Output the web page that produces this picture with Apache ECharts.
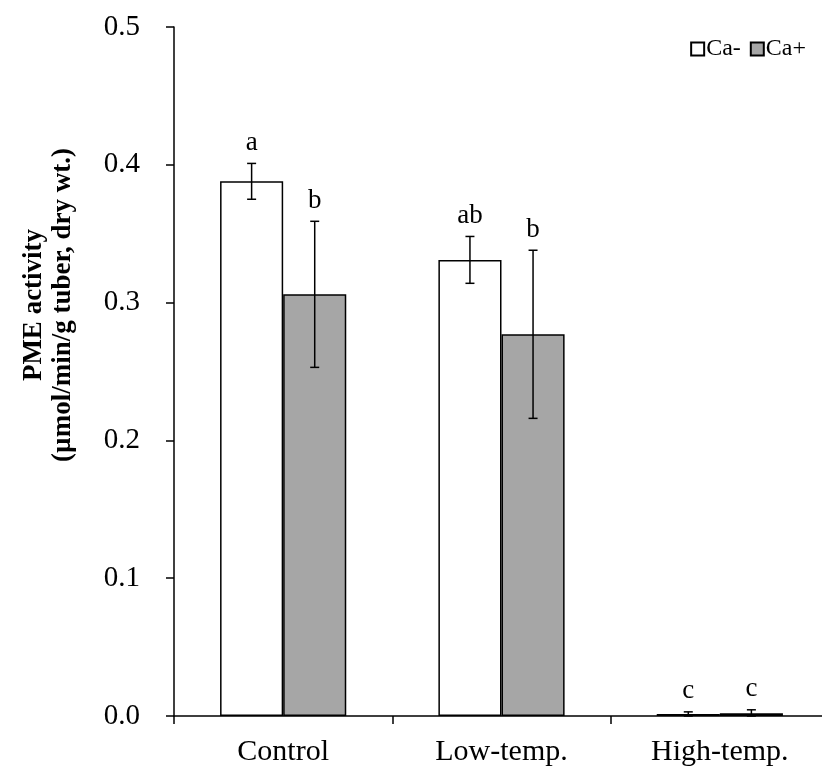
<!DOCTYPE html>
<html>
<head>
<meta charset="utf-8">
<script src="https://cdn.jsdelivr.net/npm/echarts@6/dist/echarts.min.js"></script>
<style>html,body{margin:0;padding:0;background:#fff;overflow:hidden}#c{width:829px;height:769px}</style>
</head>
<body>
<div id="c"></div>
<script>
const categories = ['Control', 'Low-temp.', 'High-temp.'];
const seriesNames = ['Ca-', 'Ca+'];
const caMinus = [0.388, 0.331, 0.0015];
const caMinusErr = [0.013, 0.017, 0.0015];
const caPlus = [0.306, 0.277, 0.002];
const caPlusErr = [0.053, 0.061, 0.0025];
const caMinusLetters = ['a', 'ab', 'c'];
const caPlusLetters = ['b', 'b', 'c'];
const yTicks = [0, 0.1, 0.2, 0.3, 0.4, 0.5];

const FONT = '"Liberation Serif", "Times New Roman", serif';
const BAR_FRAC = 0.289;

const errData = [];
categories.forEach((c, i) => {
  errData.push([i, caMinus[i], caMinusErr[i], 0, caMinusLetters[i]]);
  errData.push([i, caPlus[i], caPlusErr[i], 1, caPlusLetters[i]]);
});

const chart = echarts.init(document.getElementById('c'), null, {renderer: 'canvas', width: 829, height: 769});
chart.setOption({
  animation: false,
  backgroundColor: '#fff',
  grid: {left: 174, right: 0, top: 27, bottom: 53, containLabel: false},
  legend: {
    data: seriesNames,
    right: 18, top: 32,
    icon: 'rect', itemWidth: 13, itemHeight: 13, itemGap: 9,
    textStyle: {fontFamily: FONT, fontSize: 24, color: '#000', padding: [0, 0, 0, -3]}
  },
  xAxis: {
    type: 'category',
    data: categories,
    axisLine: {lineStyle: {color: '#000', width: 1.5}},
    axisTick: {show: true, length: 8, lineStyle: {color: '#000', width: 1.5}},
    axisLabel: {fontFamily: FONT, fontSize: 30, color: '#000', margin: 21}
  },
  yAxis: {
    type: 'value',
    min: 0, max: 0.5, interval: 0.1,
    axisLine: {show: true, lineStyle: {color: '#000', width: 1.5}},
    axisTick: {show: true, length: 8, lineStyle: {color: '#000', width: 1.5}},
    splitLine: {show: false},
    axisLabel: {fontFamily: FONT, fontSize: 29, color: '#000', margin: 34,
      formatter: v => v.toFixed(1)}
  },
  graphic: [{
    type: 'text',
    rotation: Math.PI / 2,
    x: 49, y: 305,
    style: {
      text: 'PME activity\n(µmol/min/g tuber, dry wt.)',
      fontFamily: FONT, fontSize: 27, fontWeight: 'bold', fill: '#000',
      align: 'center', verticalAlign: 'middle', lineHeight: 29
    }
  }],
  series: [
    {
      name: 'Ca-', type: 'bar', data: caMinus,
      barWidth: (BAR_FRAC * 100) + '%', barGap: '0%',
      itemStyle: {color: '#ffffff', borderColor: '#000', borderWidth: 1.5}
    },
    {
      name: 'Ca+', type: 'bar', data: caPlus,
      barWidth: (BAR_FRAC * 100) + '%', barGap: '0%',
      itemStyle: {color: '#a6a6a6', borderColor: '#000', borderWidth: 1.5}
    },
    {
      type: 'custom',
      data: errData,
      z: 10,
      renderItem: function (params, api) {
        const cat = api.value(0), mean = api.value(1), err = api.value(2), s = api.value(3);
        const letter = errData[params.dataIndex][4];
        const bw = api.size([1, 0])[0] * BAR_FRAC;
        const off = (s === 0 ? -0.5 : 0.5) * bw;
        const top = api.coord([cat, mean + err]);
        const bot = api.coord([cat, Math.max(mean - err, 0)]);
        const x = top[0] + off;
        const cap = 4.5;
        const ls = {stroke: '#000', lineWidth: 1.5};
        return {
          type: 'group',
          children: [
            {type: 'line', shape: {x1: x, y1: top[1], x2: x, y2: bot[1]}, style: ls},
            {type: 'line', shape: {x1: x - cap, y1: top[1], x2: x + cap, y2: top[1]}, style: ls},
            {type: 'line', shape: {x1: x - cap, y1: bot[1], x2: x + cap, y2: bot[1]}, style: ls},
            {type: 'text', x: x, y: top[1] - 7, style: {
              text: letter, fontFamily: FONT, fontSize: 27, fill: '#000',
              align: 'center', verticalAlign: 'bottom'}}
          ]
        };
      }
    }
  ]
});
</script>
</body>
</html>
